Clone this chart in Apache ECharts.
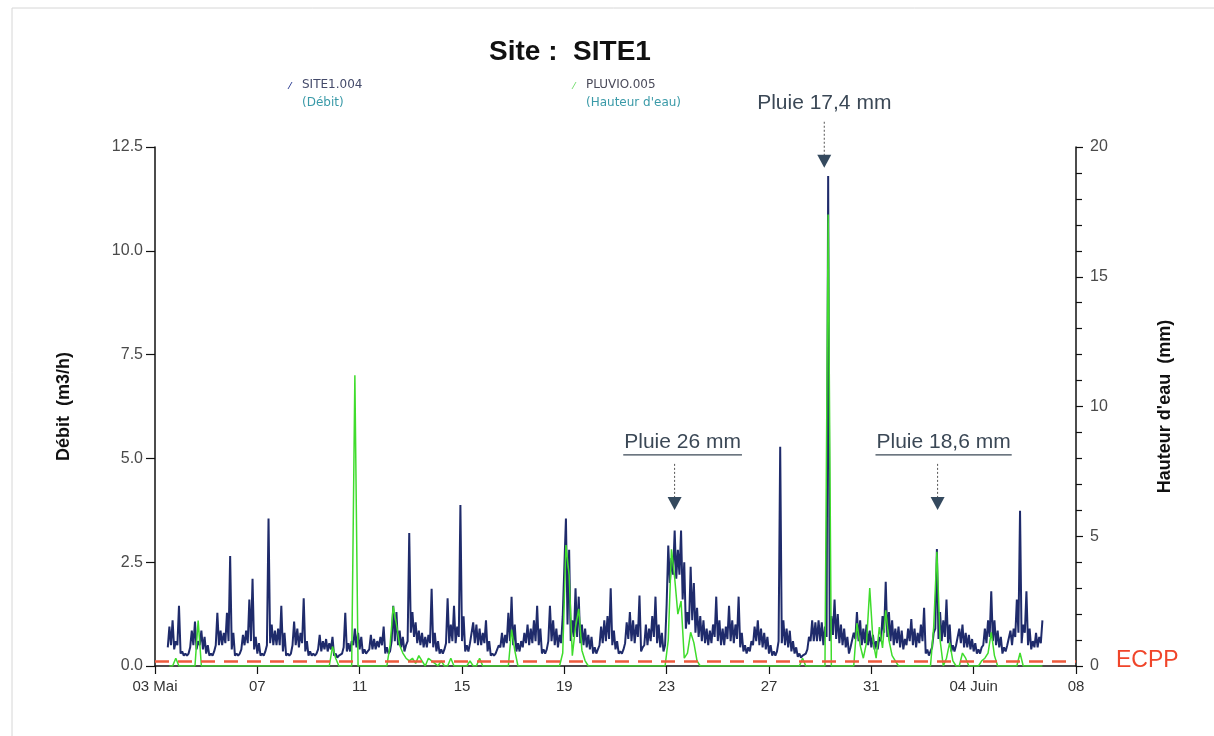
<!DOCTYPE html>
<html>
<head>
<meta charset="utf-8">
<script src="https://cdn.jsdelivr.net/npm/echarts@6/dist/echarts.min.js"></script>
<style>
html,body{margin:0;padding:0;background:#fff;}
#chart{width:1214px;height:736px;}
</style>
</head>
<body>
<div id="chart"></div>
<script>
// ---- Data (day offset 0 = 03 Mai 00h, 8 slots per day at 0,3,...,21h) ----
const xTickLabels = ['03 Mai','07','11','15','19','23','27','31','04 Juin','08'];

// Débit (m3/h) - SITE1.004 : highest reading in each 3-hour slot
const debitMaxDaily = [
  [null,null,null,null,0.95,1.1,0.6,1.45],
  [0.35,0.3,0.3,0.85,1.07,0.6,0.85,0.7],
  [0.5,0.3,0.35,1.28,0.85,0.8,1.28,2.65],
  [0.8,0.3,0.3,0.75,0.85,1.6,2.1,0.7],
  [0.55,0.3,0.35,3.55,1.0,0.85,0.9,1.45],
  [0.8,0.3,0.3,1.07,0.9,0.8,1.63,0.6],
  [0.35,0.3,0.3,0.75,0.6,0.65,0.55,0.7],
  [0.3,0.25,0.3,1.28,0.55,0.6,0.9,0.8],
  [0.7,0.4,0.35,0.75,0.65,0.6,0.7,0.95],
  [0.45,0.35,1.45,1.3,0.85,0.7,0.5,3.2],
  [1.3,1.05,0.85,0.8,0.7,0.75,1.86,0.8],
  [0.6,0.4,0.4,1.63,1.0,1.45,0.95,3.88],
  [1.2,0.5,0.55,1.05,1.0,0.9,0.8,1.1],
  [0.6,0.3,0.3,0.5,0.8,0.75,1.28,1.67],
  [1.0,0.55,0.6,0.8,1.0,0.9,1.1,1.45],
  [0.9,0.4,0.4,1.45,1.1,0.9,0.75,1.2],
  [3.55,2.8,1.1,1.87,1.67,1.0,0.9,0.75],
  [0.7,0.45,0.4,0.95,1.1,1.2,1.87,0.85],
  [0.6,0.35,0.4,1.05,1.3,1.1,1.0,1.7],
  [0.45,1.0,0.9,1.2,1.67,1.0,0.8,0.5],
  [2.9,2.6,3.26,2.8,3.26,2.5,1.3,2.39],
  [2.0,1.4,1.2,1.1,0.9,0.85,1.0,1.67],
  [1.1,0.9,0.95,1.45,1.1,1.0,1.67,0.8],
  [0.5,0.45,0.6,0.95,1.1,0.9,0.8,0.7],
  [0.5,0.35,0.35,5.28,1.1,0.9,0.85,0.6],
  [0.45,0.3,0.25,0.3,0.7,1.1,1.05,1.1],
  [1.05,0.95,11.8,1.2,1.6,1.25,1.0,0.9],
  [0.7,0.45,0.8,1.3,1.1,0.9,1.0,0.85],
  [0.75,0.6,0.7,1.2,2.03,1.3,1.1,0.9],
  [0.95,0.85,0.65,0.9,1.13,0.9,0.8,1.0],
  [1.4,0.4,0.35,0.8,2.82,1.3,1.1,1.6],
  [1.0,0.5,0.5,0.9,1.0,0.8,0.75,0.65],
  [0.55,0.4,0.45,0.9,1.1,1.8,1.1,0.85],
  [0.7,0.45,0.5,0.85,0.9,1.6,3.74,1.0],
  [1.8,0.9,0.6,0.8,0.7,1.1,null,null]
];
// Débit (m3/h) : lowest reading in each 3-hour slot
const debitMinDaily = [
  [null,null,null,null,0.45,0.5,0.4,0.5],
  [0.3,0.25,0.25,0.45,0.5,0.4,0.5,0.4],
  [0.3,0.25,0.25,0.5,0.5,0.5,0.55,0.6],
  [0.4,0.25,0.25,0.4,0.5,0.55,0.6,0.4],
  [0.3,0.25,0.25,0.5,0.55,0.5,0.5,0.5],
  [0.35,0.25,0.25,0.5,0.5,0.45,0.55,0.35],
  [0.25,0.25,0.25,0.4,0.35,0.4,0.35,0.4],
  [0.25,0.2,0.25,0.45,0.35,0.35,0.5,0.45],
  [0.4,0.3,0.3,0.4,0.4,0.4,0.45,0.5],
  [0.3,0.3,0.6,0.6,0.5,0.45,0.35,0.6],
  [0.8,0.7,0.55,0.5,0.45,0.45,0.55,0.45],
  [0.35,0.3,0.3,0.55,0.55,0.6,0.55,0.7],
  [0.6,0.35,0.35,0.55,0.55,0.5,0.5,0.55],
  [0.35,0.25,0.25,0.3,0.45,0.45,0.55,0.6],
  [0.5,0.35,0.35,0.45,0.55,0.5,0.55,0.6],
  [0.5,0.3,0.3,0.6,0.6,0.5,0.45,0.55],
  [1.2,1.0,0.6,0.7,0.7,0.55,0.5,0.45],
  [0.4,0.3,0.3,0.5,0.55,0.6,0.65,0.5],
  [0.4,0.3,0.3,0.55,0.65,0.6,0.55,0.7],
  [0.35,0.5,0.5,0.6,0.7,0.55,0.45,0.35],
  [1.5,2.0,2.2,2.1,2.2,1.6,0.9,1.0],
  [1.1,0.8,0.7,0.6,0.55,0.5,0.55,0.7],
  [0.6,0.5,0.5,0.65,0.6,0.55,0.65,0.45],
  [0.35,0.3,0.35,0.5,0.6,0.5,0.45,0.4],
  [0.3,0.25,0.25,0.6,0.55,0.5,0.45,0.35],
  [0.3,0.22,0.2,0.22,0.4,0.6,0.6,0.6],
  [0.6,0.5,0.7,0.6,0.75,0.65,0.55,0.5],
  [0.45,0.3,0.45,0.65,0.6,0.5,0.55,0.5],
  [0.45,0.4,0.4,0.6,0.8,0.7,0.6,0.5],
  [0.55,0.45,0.4,0.5,0.6,0.5,0.45,0.55],
  [0.6,0.3,0.25,0.45,0.9,0.65,0.6,0.7],
  [0.55,0.35,0.35,0.5,0.55,0.45,0.45,0.4],
  [0.35,0.3,0.3,0.5,0.55,0.7,0.6,0.5],
  [0.45,0.3,0.35,0.5,0.5,0.7,0.8,0.55],
  [0.8,0.5,0.4,0.45,0.45,0.55,null,null]
];

// Hauteur d'eau (mm) - PLUVIO.005
const pluieDaily = [
  [null,null,null,null,0,0,0.3,0],
  [0,0,0,0,0,1.75,0,0],
  [0,0,0,0,0,0,0,0],
  [0,0,0,0,0,0,0,0],
  [0,0,0,0,0,0,0,0],
  [0,0,0,0,0,0,0,0],
  [0,0,0,0,0,0,0,0.75],
  [0.3,0,0,0,0,0,11.2,0],
  [0,0,0,0,0,0,0,0],
  [0,0.8,2.3,1.6,0.8,0.5,0.3,0.2],
  [0.3,0.1,0.4,0.2,0,0.3,0.2,0.1],
  [0,0.2,0,0,0.3,0,0,0],
  [0,0,0.2,0,0,0.3,0,0],
  [0,0,0,0,0,0,0,1.4],
  [0.6,0,0,0,0,0,0,0],
  [0,0,0,0,0,0,0,0.5],
  [4.66,3.5,0.4,1.5,2.2,0.6,0.2,0],
  [0,0,0,0,0,0,0,0],
  [0,0,0,0,0,0,0,0],
  [0,0,0,0,0,0,0,0],
  [1.0,4.5,3.4,2.0,2.5,0.3,0.5,1.3],
  [0.9,0.2,0,0,0,0,0,0],
  [0,0,0,0,0,0,0,0],
  [0,0,0,0,0,0,0,0],
  [0,0,0,0,0,0,0,0],
  [0,0,0.3,0,0,0,0,0],
  [0,0,17.4,0,0,0,0,0],
  [0,0,0,1.65,0.8,0.3,0.9,3.0],
  [1.0,0.3,1.5,0.7,2.15,1.0,0.4,0.2],
  [0,0,0,0,0,0,0,0],
  [0,0,0,1.5,4.4,1.0,0,0.3],
  [0.9,0.2,0,0,0.5,0.3,0,0],
  [0,0,0.2,0.3,0.5,1.3,0.4,0],
  [0,0,0,0,0,0,0.5,0],
  [0,0,0,0,0,0,null,null]
];

const ecppLevel = 0.12; // m3/h
const annotations = [
  {text:'Pluie 17,4 mm', day:26.16, value:12.0, underline:false, dx:0},
  {text:'Pluie 26 mm',   day:20.31, value:3.76, underline:true,  dx:8},
  {text:'Pluie 18,6 mm', day:30.59, value:3.76, underline:true,  dx:6}
];

// ---- build series ----
function buildRange(maxD, minD){
  const out=[];
  maxD.forEach((vals,d)=>{
    vals.forEach((v,i)=>{
      if(v===null) return;
      const t = d + i*3/24;
      out.push([t, minD[d][i]]);
      out.push([t + 1.5/24, v]);
    });
  });
  return out;
}
function build(daily){
  const out=[];
  daily.forEach((vals,d)=>{
    vals.forEach((v,i)=>{ if(v!==null) out.push([d + i*3/24 + 1.5/24, v]); });
  });
  return out;
}
const debitData = buildRange(debitMaxDaily, debitMinDaily);
const pluieData = build(pluieDaily);

const FONT = "'Liberation Sans', Arial, sans-serif";
const chart = echarts.init(document.getElementById('chart'));
chart.setOption({
  backgroundColor:'#fff',
  animation:false,
  title:{text:'Site :  SITE1', left:565, top:33, textAlign:'center',
    textStyle:{fontFamily:FONT, fontSize:28, fontWeight:'bold', color:'#111'}},
  grid:{left:155, right:138, top:147, bottom:70},
  xAxis:{type:'value', min:0, max:36, interval:4,
    axisLine:{lineStyle:{color:'#111', width:1.5}},
    axisTick:{show:true, length:8, lineStyle:{color:'#111', width:1.2}},
    axisLabel:{margin:13, fontFamily:FONT, fontSize:15, color:'#333',
      formatter:v=>xTickLabels[Math.round(v/4)]},
    splitLine:{show:false}},
  yAxis:[
    {type:'value', min:0, max:12.5, interval:2.5, position:'left',
     name:'Débit  (m3/h)', nameLocation:'middle', nameGap:82, nameRotate:90,
     nameTextStyle:{fontFamily:FONT, fontSize:18, fontWeight:'bold', color:'#111'},
     axisLine:{show:true, lineStyle:{color:'#111', width:1.5}},
     axisTick:{show:true, length:9, lineStyle:{color:'#111', width:1.2}},
     axisLabel:{margin:12, fontFamily:FONT, fontSize:16, color:'#4a4a4a', formatter:v=>v.toFixed(1)},
     splitLine:{show:false}},
    {type:'value', min:0, max:20, interval:5, position:'right',
     name:"Hauteur d'eau  (mm)", nameLocation:'middle', nameGap:80, nameRotate:90,
     nameTextStyle:{fontFamily:FONT, fontSize:18, fontWeight:'bold', color:'#111'},
     axisLine:{show:true, lineStyle:{color:'#111', width:1.5}},
     axisTick:{show:true, length:7, lineStyle:{color:'#111', width:1.2}},
     minorTick:{show:true, splitNumber:5, length:6, lineStyle:{color:'#111', width:1.2}},
     axisLabel:{margin:14, fontFamily:FONT, fontSize:16, color:'#4a4a4a'},
     splitLine:{show:false}}
  ],
  series:[
    {name:'SITE1.004', type:'line', yAxisIndex:0, data:debitData,
     showSymbol:false, symbol:'none', lineStyle:{color:'#1f2b6b', width:2}, z:2,
     markLine:{silent:true, symbol:'none', animation:false,
       lineStyle:{color:'#ee5a3c', width:2.6, type:[14,9]},
       label:{show:true, position:'end', distance:40, formatter:'ECPP',
         color:'#f0452a', fontFamily:FONT, fontSize:23},
       data:[{yAxis:ecppLevel}]}},
    {name:'PLUVIO.005', type:'line', yAxisIndex:1, data:pluieData,
     showSymbol:false, symbol:'none', lineStyle:{color:'#3fdc2c', width:1.5}, z:3}
  ]
});

// ---- annotations and legend as graphics ----
const cv = document.createElement('canvas').getContext('2d');
const LFONT = "12px 'DejaVu Sans', 'Liberation Sans', sans-serif";
const g = [];
g.push({type:'rect', silent:true, shape:{x:12,y:8,width:1400,height:900},
  style:{fill:'none', stroke:'#d6d6d6', lineWidth:1}, z:0});
// legend
g.push({type:'line', shape:{x1:288,y1:89,x2:292,y2:82}, style:{stroke:'#3a4a9a', lineWidth:1}});
g.push({type:'text', style:{x:302, y:85, text:'SITE1.004', font:LFONT, fill:'#444a6a', textVerticalAlign:'middle'}});
g.push({type:'text', style:{x:302, y:103, text:'(Débit)', font:LFONT, fill:'#3a9aa8', textVerticalAlign:'middle'}});
g.push({type:'line', shape:{x1:572,y1:89,x2:576,y2:82}, style:{stroke:'#7ee07a', lineWidth:1}});
g.push({type:'text', style:{x:586, y:85, text:'PLUVIO.005', font:LFONT, fill:'#4a4a5a', textVerticalAlign:'middle'}});
g.push({type:'text', style:{x:586, y:103, text:"(Hauteur d'eau)", font:LFONT, fill:'#3a9aa8', textVerticalAlign:'middle'}});

annotations.forEach(a=>{
  const p = chart.convertToPixel({xAxisIndex:0, yAxisIndex:0}, [a.day, a.value]);
  const x = p[0], tip = p[1];
  const font = "21px 'Liberation Sans', Arial, sans-serif";
  cv.font = font;
  const w = cv.measureText(a.text).width;
  const ty = tip - (a.underline ? 68 : 65);
  g.push({type:'text', style:{x:x+a.dx, y:ty, text:a.text, font:font, fill:'#3b4856', textAlign:'center', textVerticalAlign:'middle'}});
  if(a.underline){
    g.push({type:'line', shape:{x1:x+a.dx-w/2-1, y1:ty+13, x2:x+a.dx+w/2+1, y2:ty+13}, style:{stroke:'#3b4856', lineWidth:1.2}});
  }
  g.push({type:'line', shape:{x1:x, y1:tip-46, x2:x, y2:tip-12}, style:{stroke:'#555', lineWidth:1, lineDash:[2,2]}});
  g.push({type:'polygon', shape:{points:[[x-7,tip-13],[x+7,tip-13],[x,tip]]}, style:{fill:'#34495e'}});
});
chart.setOption({graphic:g});
</script>
</body>
</html>
